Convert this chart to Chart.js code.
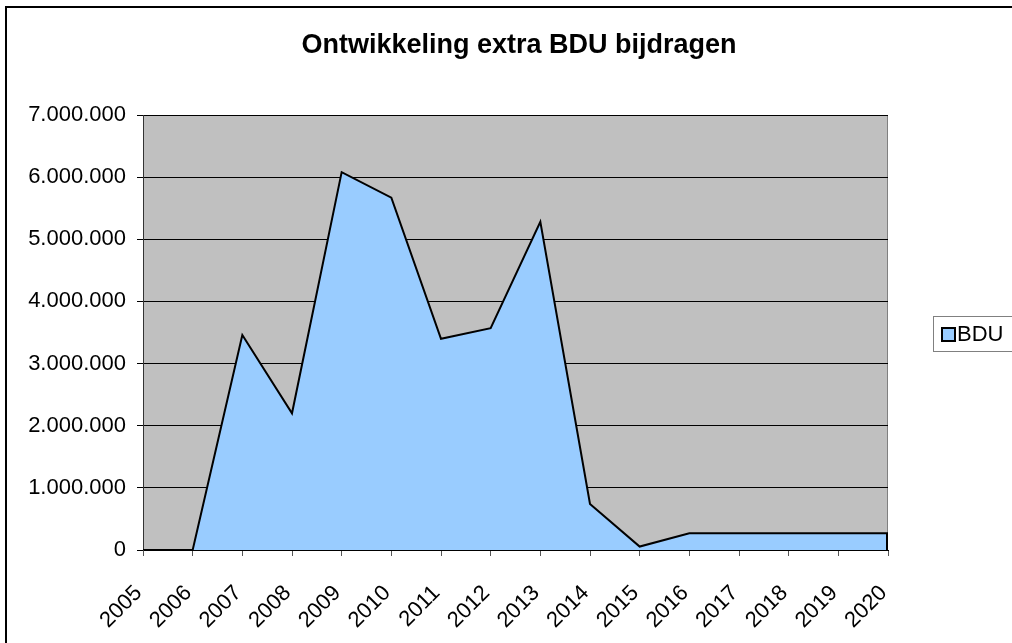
<!DOCTYPE html>
<html>
<head>
<meta charset="utf-8">
<script src="https://cdn.jsdelivr.net/npm/chart.js@4"></script>
<style>
  html, body { margin: 0; padding: 0; background: #fff; }
  #wrap { width: 1012px; height: 643px; position: relative; }
</style>
</head>
<body>
<div id="wrap"><canvas id="c" width="1012" height="643"></canvas></div>
<script>
const chartTitle = 'Ontwikkeling extra BDU bijdragen';
const seriesName = 'BDU';
const years = ['2005','2006','2007','2008','2009','2010','2011','2012','2013','2014','2015','2016','2017','2018','2019','2020'];
const bduValues = [0, 0, 3460000, 2200000, 6080000, 5670000, 3400000, 3570000, 5280000, 740000, 55000, 270000, 270000, 270000, 270000, 270000];
const yTicks = [0, 1000000, 2000000, 3000000, 4000000, 5000000, 6000000, 7000000];

const FONT = '"Liberation Sans", Arial, sans-serif';
const FILL = '#99CCFF';

function fmt(v) {
  return String(Math.round(v)).replace(/\B(?=(\d{3})+(?!\d))/g, '.');
}

const decor = {
  id: 'decor',
  beforeDraw(chart) {
    const { ctx, chartArea: a } = chart;
    ctx.save();
    ctx.fillStyle = '#FFFFFF';
    ctx.fillRect(0, 0, chart.width, chart.height);
    ctx.strokeStyle = '#000';
    ctx.lineWidth = 2;
    ctx.strokeRect(6, 7, chart.width + 20, chart.height + 20);
    ctx.fillStyle = '#C0C0C0';
    ctx.fillRect(a.left, a.top, a.right - a.left, a.bottom - a.top);
    ctx.strokeStyle = '#808080';
    ctx.lineWidth = 1;
    ctx.strokeRect(a.left + 0.5, a.top + 0.5, a.right - a.left - 1, a.bottom - a.top);
    ctx.restore();
  },
  afterDatasetsDraw(chart) {
    const { ctx } = chart;
    const xs = chart.scales.x, ys = chart.scales.y;
    const last = bduValues.length - 1;
    const px = xs.getPixelForValue(last);
    ctx.save();
    ctx.strokeStyle = '#000';
    ctx.lineWidth = 2;
    ctx.beginPath();
    ctx.moveTo(px - 1, ys.getPixelForValue(bduValues[last]));
    ctx.lineTo(px - 1, ys.getPixelForValue(0));
    ctx.stroke();
    ctx.restore();
  },
  afterDraw(chart) {
    const { ctx } = chart;
    ctx.save();
    // title
    ctx.fillStyle = '#000';
    ctx.font = 'bold 27px ' + FONT;
    ctx.textAlign = 'center';
    ctx.textBaseline = 'alphabetic';
    ctx.fillText(chartTitle, 519, 53);
    // legend
    ctx.strokeStyle = '#808080';
    ctx.lineWidth = 1;
    ctx.strokeRect(933.5, 316.5, 100, 35);
    ctx.fillStyle = FILL;
    ctx.fillRect(941, 327, 15, 15);
    ctx.strokeStyle = '#000';
    ctx.lineWidth = 2;
    ctx.strokeRect(942, 328, 13, 13);
    ctx.fillStyle = '#000';
    ctx.font = '22px ' + FONT;
    ctx.textAlign = 'left';
    ctx.textBaseline = 'middle';
    ctx.fillText(chart.data.datasets[0].label, 957, 335);
    ctx.restore();
  }
};

new Chart(document.getElementById('c'), {
  type: 'line',
  data: {
    labels: years,
    datasets: [{
      label: seriesName,
      data: bduValues,
      fill: 'origin',
      backgroundColor: FILL,
      borderColor: '#000',
      borderWidth: 2,
      pointRadius: 0,
      tension: 0
    }]
  },
  options: {
    responsive: false,
    animation: false,
    devicePixelRatio: 1,
    layout: { padding: { top: 115, right: 124, bottom: 0, left: 0 } },
    plugins: {
      legend: { display: false },
      title: { display: false },
      tooltip: { enabled: false }
    },
    scales: {
      x: {
        type: 'category',
        offset: false,
        grid: { display: true, drawOnChartArea: false, drawTicks: true, tickLength: 6, color: '#555', offset: false },
        border: { display: true, color: '#000', width: 1 },
        ticks: {
          color: '#000',
          font: { family: FONT, size: 22 },
          maxRotation: 45,
          minRotation: 45,
          autoSkip: false,
          padding: 20,
          callback: function (v, i) { return this.getLabelForValue(v) + ' '; }
        },
        afterFit(scale) { scale.height = 93; }
      },
      y: {
        min: 0,
        max: 7000000,
        afterBuildTicks(scale) { scale.ticks = yTicks.map(v => ({ value: v })); },
        grid: { color: '#000', lineWidth: 1, tickLength: 6, drawTicks: true },
        border: { display: true, color: '#333', width: 1 },
        ticks: {
          color: '#000',
          font: { family: FONT, size: 22 },
          padding: 11,
          callback: (v) => fmt(v)
        },
        afterFit(scale) { scale.width = 143; }
      }
    }
  },
  plugins: [decor]
});
</script>
</body>
</html>
